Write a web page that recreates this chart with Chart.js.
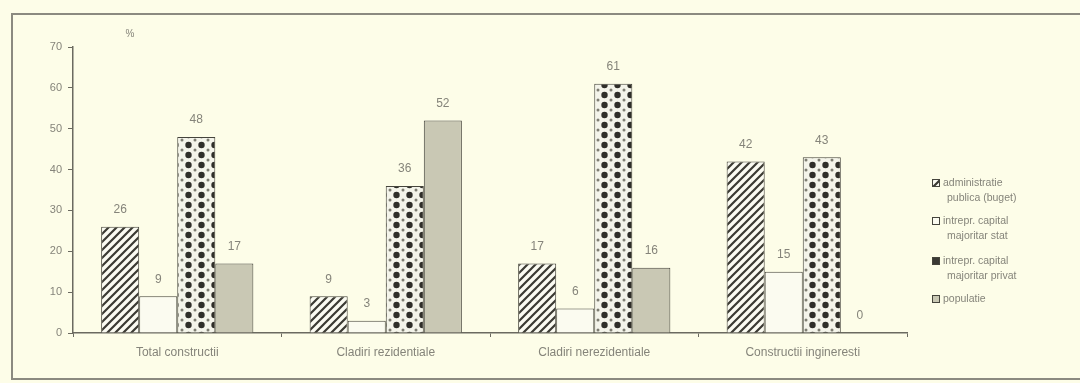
<!DOCTYPE html>
<html>
<head>
<meta charset="utf-8">
<script src="https://cdn.jsdelivr.net/npm/chart.js@4"></script>
<style>
  html, body { margin: 0; padding: 0; background: #fdfde8; }
  #wrap { width: 1080px; height: 383px; position: relative; }
</style>
</head>
<body>
<div id="wrap"><canvas id="myChart" width="1080" height="383"></canvas></div>
<script>
"use strict";

// categories and series
const categories = ["Total constructii", "Cladiri rezidentiale", "Cladiri nerezidentiale", "Constructii ingineresti"];
const adminPublica = [26, 9, 17, 42];
const capitalStat = [9, 3, 6, 15];
const capitalPrivat = [48, 36, 61, 43];
const populatie = [17, 52, 16, 0];
const seriesNames = [
	["administratie", "publica (buget)"],
	["intrepr. capital", "majoritar stat"],
	["intrepr. capital", "majoritar privat"],
	["populatie"]
];
const yTicks = [0, 10, 20, 30, 40, 50, 60, 70];

const bg = "#fdfde8";
const ink = "#45443c";
const textGray = "#85847a";

function hatchPattern() {
	let c = document.createElement("canvas");
	c.width = 8; c.height = 8;
	let x = c.getContext("2d");
	x.fillStyle = "#fbfbf2";
	x.fillRect(0, 0, 8, 8);
	x.strokeStyle = "#3b3a33";
	x.lineWidth = 2.2;
	x.beginPath();
	x.moveTo(-2, 10); x.lineTo(10, -2);
	x.moveTo(-2, 2); x.lineTo(2, -2);
	x.moveTo(6, 10); x.lineTo(10, 6);
	x.stroke();
	return x.createPattern(c, "repeat");
}

function dotPattern() {
	let c = document.createElement("canvas");
	c.width = 13; c.height = 10;
	let x = c.getContext("2d");
	x.fillStyle = "#f4f4ea";
	x.fillRect(0, 0, 13, 10);
	x.fillStyle = "#2f2e29";
	x.beginPath(); x.arc(6.5, 5, 3.2, 0, Math.PI * 2); x.fill();
	x.fillStyle = "#7e7d72";
	[[0, 0], [13, 0], [0, 10], [13, 10]].forEach(function (p) {
		x.beginPath(); x.arc(p[0], p[1], 1.5, 0, Math.PI * 2); x.fill();
	});
	return x.createPattern(c, "repeat");
}

const fills = [hatchPattern(), "#fbfbf0", dotPattern(), "#c9c8b4"];

// frame, background, "%" label
const framePlugin = {
	id: "frame",
	beforeDraw(chart) {
		let ctx = chart.ctx;
		ctx.save();
		ctx.fillStyle = bg;
		ctx.fillRect(0, 0, chart.width, chart.height);
		ctx.strokeStyle = "#8b8a80";
		ctx.lineWidth = 2;
		ctx.strokeRect(12, 14, 1100, 365);
		ctx.fillStyle = textGray;
		ctx.font = "10px 'Liberation Sans', Arial";
		ctx.textAlign = "center";
		ctx.fillText("%", 130, 37);
		ctx.restore();
	}
};

// value labels above the bars
const valuePlugin = {
	id: "values",
	afterDatasetsDraw(chart) {
		let ctx = chart.ctx;
		ctx.save();
		ctx.fillStyle = textGray;
		ctx.font = "12px 'Liberation Sans', Arial";
		ctx.textAlign = "center";
		ctx.textBaseline = "middle";
		chart.data.datasets.forEach(function (ds, i) {
			chart.getDatasetMeta(i).data.forEach(function (bar, j) {
				ctx.fillText(String(ds.data[j]), bar.x, bar.y - 17);
			});
		});
		ctx.restore();
	}
};

// legend on the right
const legendPlugin = {
	id: "sideLegend",
	afterDraw(chart) {
		let ctx = chart.ctx;
		let rows = [183, 221, 261, 299];
		ctx.save();
		ctx.font = "10.5px 'Liberation Sans', Arial";
		ctx.textBaseline = "middle";
		rows.forEach(function (y, i) {
			ctx.fillStyle = i == 2 ? "#3a3934" : fills[i];
			ctx.fillRect(932, y - 4, 8, 8);
			ctx.strokeStyle = ink;
			ctx.lineWidth = 1;
			ctx.strokeRect(932.5, y - 3.5, 7, 7);
			ctx.fillStyle = textGray;
			seriesNames[i].forEach(function (line, k) {
				ctx.fillText(line, k == 0 ? 943 : 947, y + k * 15);
			});
		});
		ctx.restore();
	}
};

let myChart = new Chart(document.getElementById("myChart"), {
	type: "bar",
	data: {
		labels: categories,
		datasets: [adminPublica, capitalStat, capitalPrivat, populatie].map(function (d, i) {
			return {
				label: seriesNames[i].join(" "),
				data: d,
				backgroundColor: fills[i],
				borderColor: ink,
				borderWidth: 1,
				borderSkipped: "bottom",
				categoryPercentage: 0.73,
				barPercentage: 1
			};
		})
	},
	options: {
		responsive: false,
		animation: false,
		layout: { padding: { top: 47, right: 173, left: 0, bottom: 0 } },
		plugins: { legend: { display: false }, tooltip: { enabled: false } },
		scales: {
			x: {
				grid: { drawOnChartArea: false, tickLength: 4, color: "#6b6a60" },
				border: { color: "#6b6a60", width: 1.5 },
				ticks: { color: textGray, padding: 8, font: { size: 12, family: "'Liberation Sans', Arial" } },
				afterFit: function (s) { s.height = 50; }
			},
			y: {
				min: 0,
				max: 70,
				afterBuildTicks: function (s) { s.ticks = yTicks.map(function (v) { return { value: v }; }); },
				grid: { drawOnChartArea: false, tickLength: 5, color: "#6b6a60" },
				border: { color: "#6b6a60", width: 1.5 },
				ticks: { color: textGray, padding: 6, font: { size: 11, family: "'Liberation Sans', Arial" } },
				afterFit: function (s) { s.width = 73; }
			}
		}
	},
	plugins: [framePlugin, valuePlugin, legendPlugin]
});
</script>
</body>
</html>
